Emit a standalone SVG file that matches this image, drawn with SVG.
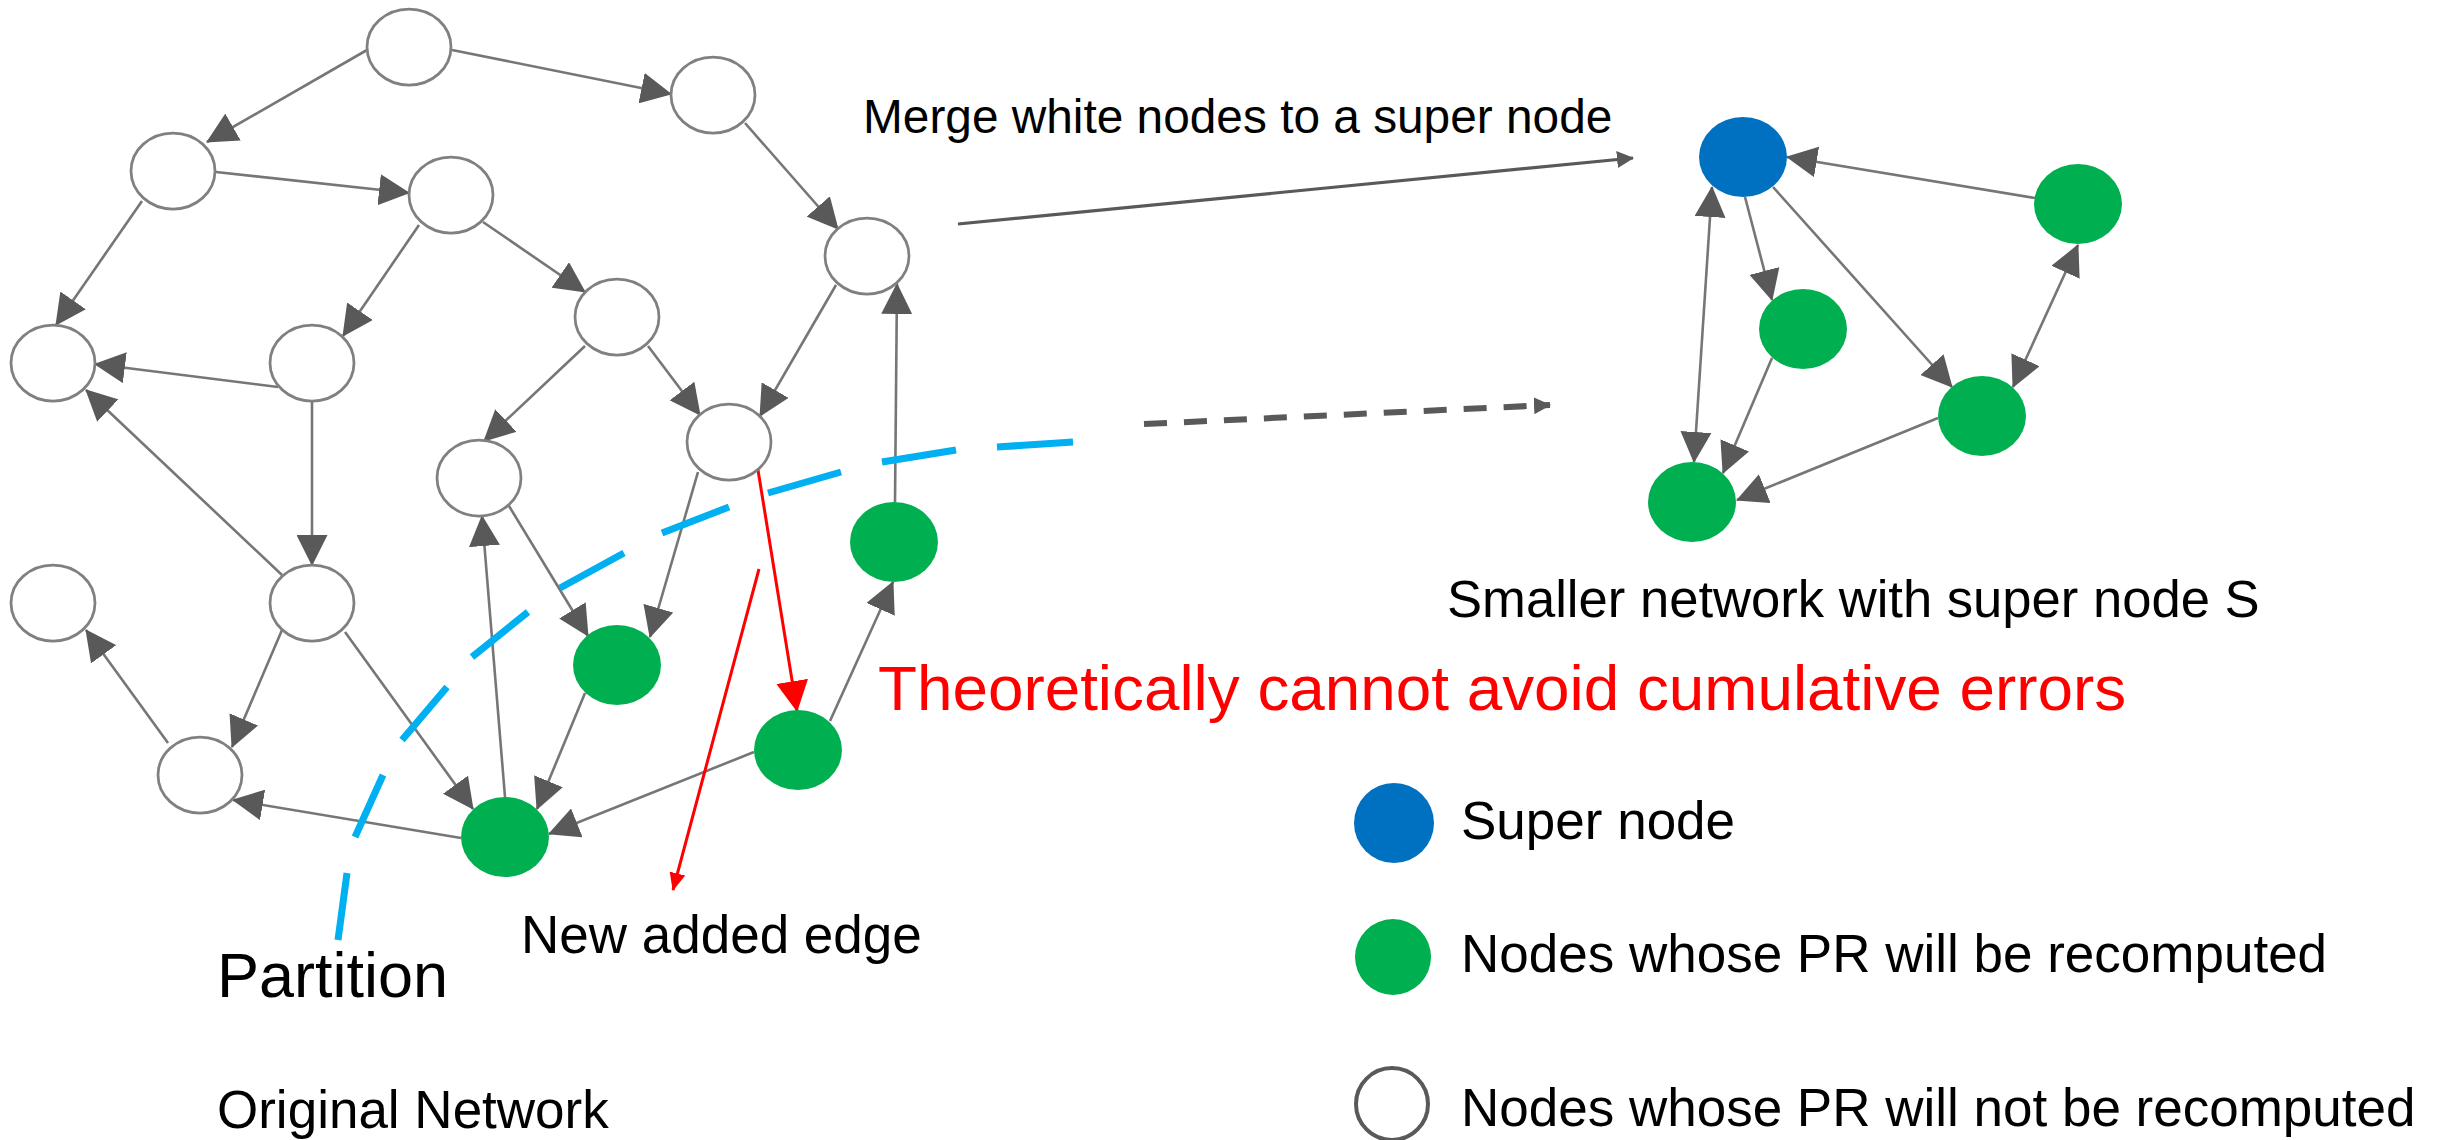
<svg xmlns="http://www.w3.org/2000/svg" width="2448" height="1140" viewBox="0 0 2448 1140">
<style>
.w{fill:#fff;stroke:#808080;stroke-width:2.75}
.g{fill:#00B050}
.b{fill:#0070C0}
.e{stroke:#767676;stroke-width:2.6;fill:none;marker-end:url(#ah)}
.d{stroke:#767676;stroke-width:2.6;fill:none;marker-start:url(#ah);marker-end:url(#ah)}
.r{stroke:#FF0000;stroke-width:3;fill:none}
.t{font-family:"Liberation Sans",Arial,sans-serif;fill:#000}
</style>
<defs>
<marker id="ah" markerUnits="userSpaceOnUse" markerWidth="31" markerHeight="31" refX="30" refY="15.5" orient="auto-start-reverse">
<path d="M0,0 L31,15.5 L0,31 Z" fill="#595959"/>
</marker>
<marker id="ahr" markerUnits="userSpaceOnUse" markerWidth="31" markerHeight="32" refX="30" refY="16" orient="auto">
<path d="M0,0 L31,16 L0,32 Z" fill="#FF0000"/>
</marker>
<marker id="ahrs" markerUnits="userSpaceOnUse" markerWidth="18" markerHeight="16" refX="17" refY="8" orient="auto">
<path d="M0,0 L18,8 L0,16 Z" fill="#FF0000"/>
</marker>
<marker id="ahs" markerUnits="userSpaceOnUse" markerWidth="17" markerHeight="17" refX="16" refY="8.5" orient="auto">
<path d="M0,0 L17,8.5 L0,17 Z" fill="#595959"/>
</marker>
</defs>
<rect width="2448" height="1140" fill="#fff"/>

<g id="connectors">
<line class="e" x1="367" y1="50" x2="207" y2="142"/>
<line class="e" x1="452" y1="50" x2="671" y2="94"/>
<line class="e" x1="216" y1="172" x2="409" y2="193"/>
<line class="e" x1="142" y1="201" x2="56" y2="325"/>
<line class="e" x1="419" y1="225" x2="343" y2="336"/>
<line class="e" x1="483" y1="222" x2="585" y2="292"/>
<line class="e" x1="278" y1="387" x2="95" y2="364"/>
<line class="e" x1="312" y1="401" x2="312" y2="565"/>
<line class="e" x1="745" y1="123" x2="838" y2="229"/>
<line class="e" x1="836" y1="285" x2="760" y2="416"/>
<line class="e" x1="648" y1="346" x2="700" y2="415"/>
<line class="e" x1="585" y1="346" x2="484" y2="441"/>
<line class="e" x1="895" y1="502" x2="897" y2="284"/>
<line class="e" x1="168" y1="743" x2="86" y2="630"/>
<line class="e" x1="282" y1="630" x2="232" y2="747"/>
<line class="e" x1="345" y1="632" x2="473" y2="809"/>
<line class="e" x1="282" y1="575" x2="86" y2="390"/>
<line class="e" x1="461" y1="838" x2="233" y2="800"/>
<line class="e" x1="505" y1="797" x2="482" y2="516"/>
<line class="e" x1="509" y1="506" x2="588" y2="636"/>
<line class="e" x1="698" y1="472" x2="650" y2="637"/>
<line class="e" x1="585" y1="693" x2="537" y2="809"/>
<line class="e" x1="754" y1="752" x2="549" y2="834"/>
<line class="e" x1="830" y1="721" x2="893" y2="582"/>
<line class="r" x1="758" y1="470" x2="797" y2="711" marker-end="url(#ahr)"/>
<line class="r" x1="759" y1="569" x2="673" y2="890" marker-end="url(#ahrs)"/>
<path d="M338,940 L347,873 M355,837 L383,775 M402,740 L447,687 M472,657 L528,612 M560,588 L624,553 M662,533 L729,507 M768,493 L841,472 M882,462 L956,450 M997,447 L1073,442" stroke="#00B0F0" stroke-width="7" fill="none"/>
<line x1="958" y1="224" x2="1633" y2="158" stroke="#595959" stroke-width="3.2" marker-end="url(#ahs)"/>
<line x1="1144" y1="424" x2="1550" y2="405" stroke="#595959" stroke-width="6" stroke-dasharray="23 17" marker-end="url(#ahs)"/>
<line class="e" x1="2035" y1="198" x2="1787" y2="157"/>
<line class="d" x1="1712" y1="187" x2="1694" y2="462"/>
<line class="e" x1="1745" y1="197" x2="1772" y2="300"/>
<line class="e" x1="1773" y1="187" x2="1952" y2="387"/>
<line class="d" x1="2078" y1="245" x2="2013" y2="387"/>
<line class="e" x1="1772" y1="358" x2="1723" y2="473"/>
<line class="e" x1="1938" y1="418" x2="1737" y2="500"/>
</g>

<g id="n1"><ellipse class="w" cx="409" cy="47" rx="42" ry="38"/></g>
<g id="n2"><ellipse class="w" cx="173" cy="171" rx="42" ry="38"/></g>
<g id="n3"><ellipse class="w" cx="451" cy="195" rx="42" ry="38"/></g>
<g id="n4"><ellipse class="w" cx="53" cy="363" rx="42" ry="38"/></g>
<g id="n5"><ellipse class="w" cx="312" cy="363" rx="42" ry="38"/></g>
<g id="n6"><ellipse class="w" cx="53" cy="603" rx="42" ry="38"/></g>
<g id="n7"><ellipse class="w" cx="312" cy="603" rx="42" ry="38"/></g>
<g id="n8"><ellipse class="w" cx="200" cy="775" rx="42" ry="38"/></g>
<g id="n9"><ellipse class="w" cx="713" cy="95" rx="42" ry="38"/></g>
<g id="n10"><ellipse class="w" cx="867" cy="256" rx="42" ry="38"/></g>
<g id="n11"><ellipse class="w" cx="617" cy="317" rx="42" ry="38"/></g>
<g id="n12"><ellipse class="w" cx="729" cy="442" rx="42" ry="38"/></g>
<g id="n13"><ellipse class="w" cx="479" cy="478" rx="42" ry="38"/></g>
<g id="g1"><ellipse class="g" cx="894" cy="542" rx="44" ry="40"/></g>
<g id="g2"><ellipse class="g" cx="617" cy="665" rx="44" ry="40"/></g>
<g id="g3"><ellipse class="g" cx="798" cy="750" rx="44" ry="40"/></g>
<g id="g4"><ellipse class="g" cx="505" cy="837" rx="44" ry="40"/></g>

<g id="s"><ellipse class="b" cx="1743" cy="157" rx="44" ry="40"/></g>
<g id="r1"><ellipse class="g" cx="2078" cy="204" rx="44" ry="40"/></g>
<g id="r2"><ellipse class="g" cx="1803" cy="329" rx="44" ry="40"/></g>
<g id="r3"><ellipse class="g" cx="1982" cy="416" rx="44" ry="40"/></g>
<g id="r4"><ellipse class="g" cx="1692" cy="502" rx="44" ry="40"/></g>

<g id="labels">
<text class="t" x="863" y="133" font-size="47.8">Merge white nodes to a super node</text>
<text class="t" x="1447" y="617" font-size="52.6">Smaller network with super node S</text>
<text class="t" x="878" y="710" font-size="63.8" style="fill:#FF0000">Theoretically cannot avoid cumulative errors</text>
<text class="t" x="521" y="953" font-size="53">New added edge</text>
<text class="t" x="217" y="997" font-size="63">Partition</text>
<text class="t" x="217" y="1128" font-size="53">Original Network</text>
</g>

<g id="legend">
<g id="leg-super"><ellipse class="b" cx="1394" cy="823" rx="40" ry="40"/>
<text class="t" x="1461" y="839" font-size="53">Super node</text></g>
<g id="leg-green"><ellipse class="g" cx="1393" cy="957" rx="38" ry="38"/>
<text class="t" x="1461" y="972" font-size="53">Nodes whose PR will be recomputed</text></g>
<g id="leg-white"><ellipse cx="1392" cy="1104" rx="36" ry="36" fill="#fff" stroke="#595959" stroke-width="4"/>
<text class="t" x="1461" y="1126" font-size="53">Nodes whose PR will not be recomputed</text></g>
</g>
</svg>
